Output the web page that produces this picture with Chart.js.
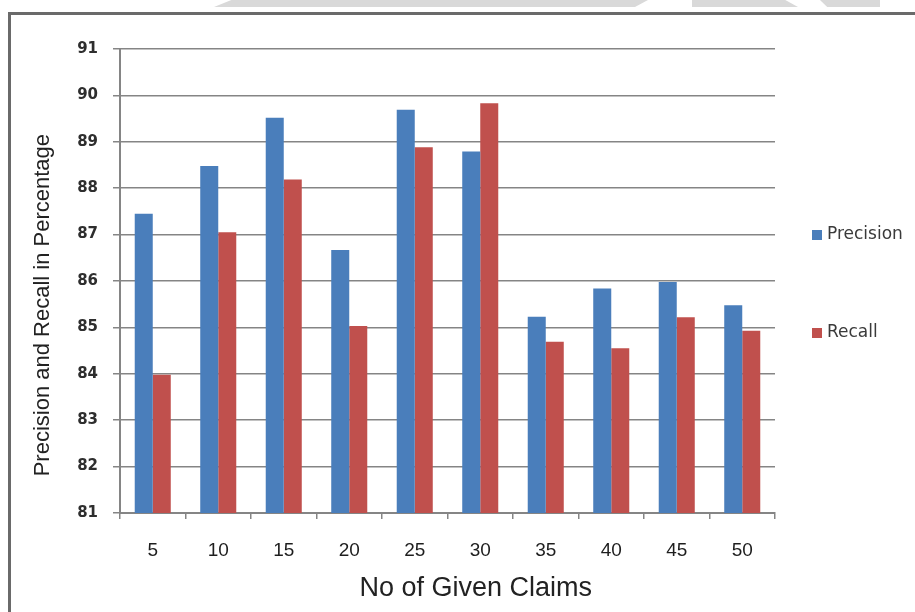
<!DOCTYPE html>
<html>
<head>
<meta charset="utf-8">
<title>Precision and Recall</title>
<script src="https://cdn.jsdelivr.net/npm/chart.js@4/dist/chart.umd.min.js"></script>
<style>
    html, body { margin: 0; padding: 0; background: #fff; }
    #wrap { position: relative; width: 915px; height: 612px; overflow: hidden; background: #fff; }
    /* faint watermark band at the very top */
    .mark { position: absolute; top: 0; height: 7px; background: #d9d9d9; }
    #frame { position: absolute; left: 8px; top: 12px; width: 930px; height: 640px;
             border-left: 3px solid #6a6a6a; border-top: 3px solid #6a6a6a; }
    #chart { position: absolute; left: 0; top: 0; }
</style>
</head>
<body>
<div id="wrap">
    <div class="mark" style="left:214px;width:434px;clip-path:polygon(4% 0,100% 0,97% 100%,0 100%)"></div>
    <div class="mark" style="left:692px;width:106px;clip-path:polygon(0 0,88% 0,100% 100%,0 100%)"></div>
    <div class="mark" style="left:820px;width:60px;clip-path:polygon(0 0,100% 0,100% 100%,12% 100%)"></div>
    <div id="frame"></div>
    <canvas id="chart" width="915" height="612"></canvas>
</div>
<script>
// Data
const claims = ['5', '10', '15', '20', '25', '30', '35', '40', '45', '50'];
const precision = [87.45, 88.48, 89.52, 86.67, 89.69, 88.79, 85.23, 85.84, 85.98, 85.48];
const recall = [83.98, 87.05, 88.19, 85.03, 88.88, 89.83, 84.69, 84.55, 85.22, 84.93];
const yMin = 81;
const yMax = 91;

const colors = {
    precision: '#4a7ebb',
    recall: '#c0504d',
    grid: '#858585',
    text: '#2e2e2e'
};

// axis titles and the legend sit in odd places in the original, so draw them by hand
const annotations = {
    id: 'annotations',
    afterDraw(chart) {
        const ctx = chart.ctx;
        const area = chart.chartArea;
        ctx.save();
        ctx.fillStyle = '#222';
        ctx.textAlign = 'center';
        ctx.textBaseline = 'middle';

        // x title
        ctx.font = '27px "Liberation Sans", Arial, sans-serif';
        ctx.fillText('No of Given Claims', area.left + area.width * 0.543, 589);

        // y title
        ctx.translate(43, area.top + area.height * 0.552);
        ctx.rotate(-Math.PI / 2);
        ctx.font = '22px "Liberation Sans", Arial, sans-serif';
        ctx.fillText('Precision and Recall in Percentage', 0, 0);
        ctx.restore();

        // legend
        ctx.save();
        ctx.font = '17px "DejaVu Sans", sans-serif';
        ctx.textAlign = 'left';
        ctx.textBaseline = 'middle';
        const midY = (area.top + area.bottom) / 2;
        chart.data.datasets.forEach((ds, i) => {
            const y = midY + (i - 0.5) * 98 + 3;
            const x = area.right + 37;
            ctx.fillStyle = ds.backgroundColor;
            ctx.fillRect(x, y - 5, 10, 10);
            ctx.fillStyle = '#3a3a3a';
            ctx.fillText(ds.label, x + 15, y);
        });
        ctx.restore();
    }
};

new Chart(document.getElementById('chart'), {
    type: 'bar',
    data: {
        labels: claims,
        datasets: [{
            label: 'Precision',
            data: precision,
            backgroundColor: colors.precision,
            borderWidth: 0
        }, {
            label: 'Recall',
            data: recall,
            backgroundColor: colors.recall,
            borderWidth: 0
        }]
    },
    options: {
        responsive: false,
        animation: false,
        events: [],
        layout: {
            padding: { left: 0, top: 49, right: 140, bottom: 0 }
        },
        datasets: {
            bar: {
                categoryPercentage: 0.55,
                barPercentage: 1.0
            }
        },
        plugins: {
            legend: { display: false },
            tooltip: { enabled: false }
        },
        scales: {
            x: {
                grid: {
                    offset: true,
                    drawOnChartArea: false,
                    drawTicks: true,
                    tickLength: 6,
                    color: colors.grid,
                    lineWidth: 1.5
                },
                border: { color: colors.grid, width: 2 },
                ticks: {
                    color: '#1e1e1e',
                    padding: 20,
                    font: { family: '"Liberation Sans", Arial, sans-serif', size: 19 }
                },
                afterFit(scale) { scale.height = 99; }
            },
            y: {
                min: yMin,
                max: yMax,
                grid: {
                    color: colors.grid,
                    lineWidth: 1.5,
                    tickLength: 7
                },
                border: { color: colors.grid, width: 2 },
                ticks: {
                    stepSize: 1,
                    color: colors.text,
                    padding: 15,
                    font: { family: '"DejaVu Sans", sans-serif', size: 15, weight: 'bold' }
                },
                afterFit(scale) { scale.width = 120; }
            }
        }
    },
    plugins: [annotations]
});
</script>
</body>
</html>
